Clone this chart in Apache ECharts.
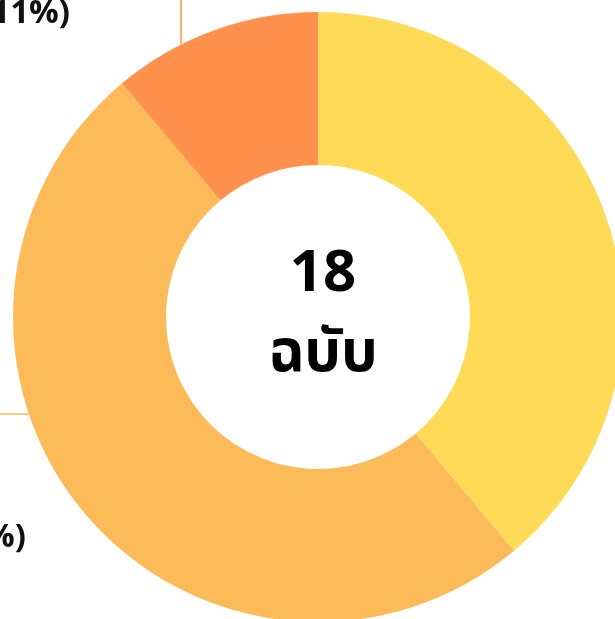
<!DOCTYPE html>
<html>
<head>
<meta charset="utf-8">
<style>
  html, body { margin: 0; padding: 0; background: #fff; }
  #chartmain { width: 615px; height: 619px; }
</style>
<script src="https://cdn.jsdelivr.net/npm/echarts@6/dist/echarts.min.js"></script>
</head>
<body>
<div id="chartmain"></div>
<script>
// ข้อมูลกราฟ
var categories = ['ฉบับสมบูรณ์', 'ฉบับร่าง', 'ฉบับแก้ไข'];
var counts = [7, 9, 2];
var colors = ['#FFDA57', '#FDBA58', '#FF914D'];
var totalText = '18';
var unitText = 'ฉบับ';

var fontFamily = "'Noto Sans Thai', 'Noto Sans', 'DejaVu Sans', sans-serif";

var pieData = [];
for (var i = 0; i < categories.length; i++) {
    pieData.push({
        name: categories[i],
        value: counts[i],
        itemStyle: { color: colors[i] },
        labelLine: { lineStyle: { color: colors[i] } }
    });
}

var myChart = echarts.init(document.getElementById('chartmain'));
var option = {
    backgroundColor: '#fff',
    animation: false,
    title: {
        text: totalText + '\n' + unitText,
        left: 318,
        top: 234,
        textAlign: 'center',
        textStyle: {
            fontFamily: fontFamily,
            fontSize: 58,
            fontWeight: 'bold',
            color: '#000',
            lineHeight: 80
        }
    },
    series: [{
        type: 'pie',
        center: [318, 317],
        radius: [152, 305],
        startAngle: 90,
        clockwise: true,
        percentPrecision: 0,
        label: {
            show: true,
            formatter: '{b} ({d}%)',
            fontFamily: fontFamily,
            fontSize: 33,
            fontWeight: 'bold',
            color: '#111',
            overflow: 'none',
            width: 600
        },
        labelLine: {
            show: true,
            lineStyle: { width: 1.5 }
        },
        // ตำแหน่งป้าย (ส่วนใหญ่อยู่นอกกรอบภาพ)
        labelLayout: function (params) {
            if (params.dataIndex == 2) {
                return {
                    x: 70, y: 16, align: 'right', verticalAlign: 'middle',
                    labelLinePoints: [[181, 44], [181, -20], [120, -20]]
                };
            } else if (params.dataIndex == 1) {
                return {
                    x: 26, y: 540, align: 'right', verticalAlign: 'middle',
                    labelLinePoints: [[29, 414], [-20, 414], [-40, 414]]
                };
            } else {
                return {
                    x: 800, y: 560, align: 'left', verticalAlign: 'middle',
                    labelLinePoints: [[700, 500], [760, 500], [780, 500]]
                };
            }
        },
        data: pieData
    }]
};
myChart.setOption(option);
</script>
</body>
</html>
